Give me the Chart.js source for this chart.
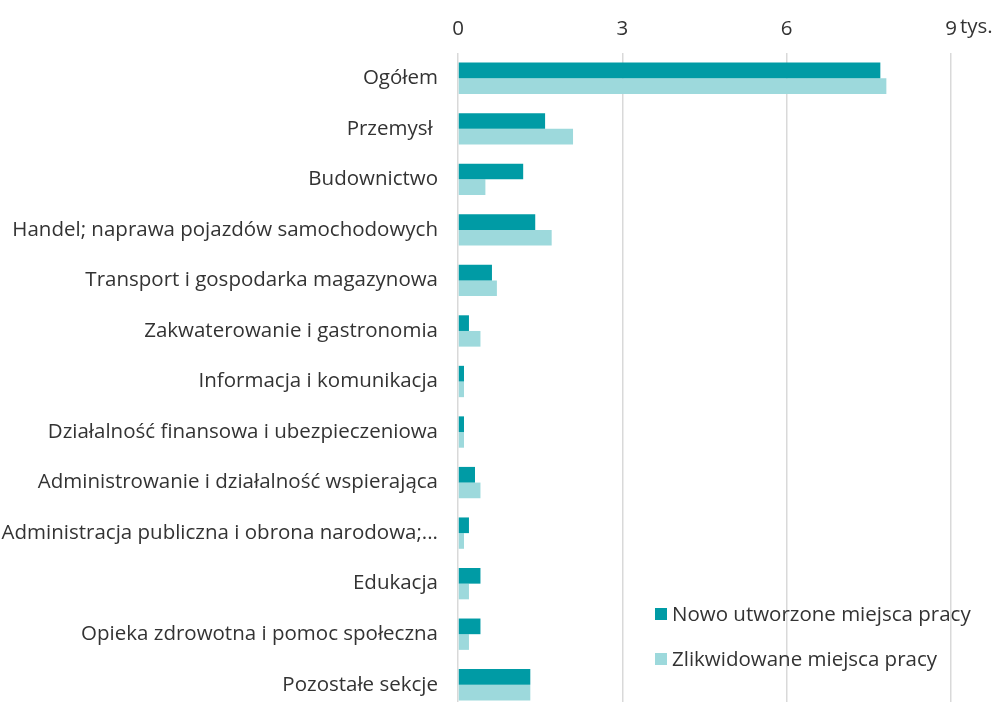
<!DOCTYPE html>
<html>
<head>
<meta charset="utf-8">
<script src="https://cdn.jsdelivr.net/npm/chart.js@4"></script>
<style>
  html, body { margin: 0; padding: 0; background: #fff; overflow: hidden; }
</style>
</head>
<body>
<canvas id="chart" width="997" height="710"></canvas>
<script>
const categories = [
  'Ogółem',
  'Przemysł ',
  'Budownictwo',
  'Handel; naprawa pojazdów samochodowych',
  'Transport i gospodarka magazynowa',
  'Zakwaterowanie i gastronomia',
  'Informacja i komunikacja',
  'Działalność finansowa i ubezpieczeniowa',
  'Administrowanie i działalność wspierająca',
  'Administracja publiczna i obrona narodowa;...',
  'Edukacja',
  'Opieka zdrowotna i pomoc społeczna',
  'Pozostałe sekcje'
];

// tysiące miejsc pracy
const nowe = [7.71, 1.59, 1.19, 1.41, 0.62, 0.20, 0.11, 0.11, 0.31, 0.20, 0.41, 0.41, 1.32];
const zlikwidowane = [7.82, 2.10, 0.50, 1.71, 0.71, 0.41, 0.11, 0.11, 0.41, 0.11, 0.20, 0.20, 1.32];

const xTicks = [0, 3, 6, 9];
const unitLabel = 'tys.';

const seriesNames = ['Nowo utworzone miejsca pracy', 'Zlikwidowane miejsca pracy'];
const colorNew = '#009ba5';
const colorGone = '#9dd9dc';

const FONT = '"Open Sans", sans-serif';
const FSIZE = 20.5;
const TEXT = '#333333';

// legend drawn inside plot area, bottom right
const insideLegend = {
  id: 'insideLegend',
  afterDraw(chart) {
    const ctx = chart.ctx;
    ctx.save();
    ctx.font = FSIZE + 'px ' + FONT;
    ctx.textBaseline = 'middle';
    ctx.textAlign = 'left';
    const rows = [614, 659];
    chart.data.datasets.forEach((ds, i) => {
      ctx.fillStyle = ds.backgroundColor;
      ctx.fillRect(655, rows[i] - 6, 12, 12);
      ctx.fillStyle = TEXT;
      ctx.fillText(ds.label, 672, rows[i] + 1);
    });
    ctx.restore();
  }
};

// "tys." after the last tick label
const unitText = {
  id: 'unitText',
  afterDraw(chart) {
    const x = chart.scales.x;
    const ctx = chart.ctx;
    ctx.save();
    ctx.font = FSIZE + 'px ' + FONT;
    ctx.fillStyle = TEXT;
    ctx.textBaseline = 'middle';
    ctx.textAlign = 'left';
    ctx.fillText(unitLabel, x.getPixelForValue(9) + 9, 27);
    ctx.restore();
  }
};

new Chart(document.getElementById('chart'), {
  type: 'bar',
  data: {
    labels: categories,
    datasets: [
      { label: seriesNames[0], data: nowe, backgroundColor: colorNew },
      { label: seriesNames[1], data: zlikwidowane, backgroundColor: colorGone }
    ]
  },
  options: {
    indexAxis: 'y',
    responsive: false,
    animation: false,
    layout: { padding: { left: 0, right: 46, top: 0, bottom: 0 } },
    datasets: {
      bar: { barPercentage: 1, categoryPercentage: 0.62 }
    },
    scales: {
      x: {
        position: 'top',
        min: 0,
        max: 9,
        afterBuildTicks(scale) {
          scale.ticks = xTicks.map(v => ({ value: v }));
        },
        afterFit(scale) {
          scale.height = 53;
          scale.paddingLeft = 0;
          scale.paddingRight = 0;
        },
        grid: { color: '#d9d9d9', lineWidth: 1.5, drawTicks: false },
        border: { display: false },
        ticks: {
          color: TEXT,
          font: { family: FONT, size: FSIZE },
          padding: 12
        }
      },
      y: {
        afterFit(scale) {
          scale.width = 458;
          scale.paddingTop = 0;
          scale.paddingBottom = 0;
        },
        grid: { display: false, drawTicks: false },
        border: { display: false },
        ticks: {
          color: TEXT,
          font: { family: FONT, size: FSIZE },
          padding: 20,
          autoSkip: false
        }
      }
    },
    plugins: {
      legend: { display: false },
      tooltip: { enabled: false }
    }
  },
  plugins: [insideLegend, unitText]
});
</script>
</body>
</html>
